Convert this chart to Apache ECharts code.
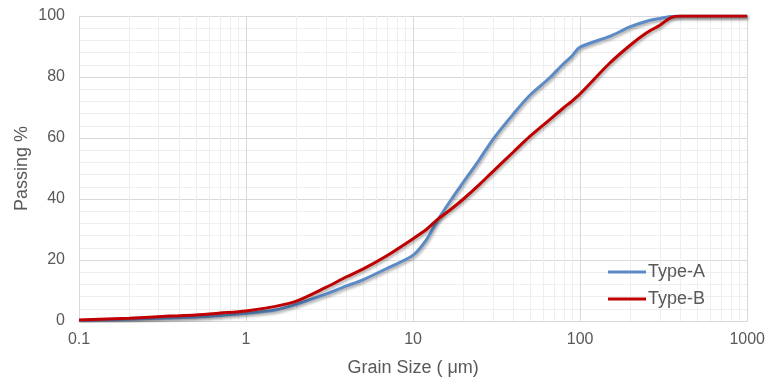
<!DOCTYPE html>
<html>
<head>
<meta charset="utf-8">
<script src="https://cdn.jsdelivr.net/npm/echarts@6/dist/echarts.min.js"></script>
<style>
  html, body { margin: 0; padding: 0; background: #fff; }
  #chart { width: 768px; height: 383px; }
</style>
</head>
<body>
<div id="chart"></div>
<script>
// Grain size (µm) at which each passing percentage is reported
const grainSize = [0.1, 0.2, 0.35, 0.5, 0.7, 1, 1.5, 2, 3, 4, 5, 7, 10, 12, 14, 17, 20, 25, 30, 40, 50, 65, 80, 88, 100, 150, 200, 250, 300, 350, 400, 500, 700, 1000];
const typeA = [0.2, 0.6, 1.0, 1.3, 1.8, 2.5, 3.6, 5.5, 8.8, 11.5, 13.5, 17.3, 21.6, 26.6, 33, 40, 45.5, 53, 59.5, 68, 74, 79.5, 84.5, 86.5, 89.8, 93.3, 96.5, 98.3, 99.2, 99.8, 100, 100, 100, 100];
const typeB = [0.3, 0.9, 1.6, 2.0, 2.6, 3.3, 4.8, 6.5, 11, 14.5, 17, 21.5, 27, 30, 33.3, 36.8, 40, 44.8, 49, 55.5, 60.5, 65.8, 70, 71.8, 74.5, 84.5, 90.5, 94.5, 97, 99.5, 100, 100, 100, 100];
const seriesNames = ['Type-A', 'Type-B'];
const seriesColors = ['#5b8ac6', '#c00000'];
const yTicks = [0, 20, 40, 60, 80, 100];

// Minor log grid: 2..9 within each decade
const minorGrid = [];
for (let d = 0.1; d < 999; d *= 10) {
  for (let k = 2; k <= 9; k++) minorGrid.push({ xAxis: +(k * d).toPrecision(3) });
}

const pairs = arr => grainSize.map((x, i) => [x, arr[i]]);
const font = 'Liberation Sans, Arial, sans-serif';
const textColor = '#595959';
const lineShadow = { shadowColor: 'rgba(0,0,0,0.35)', shadowBlur: 3, shadowOffsetX: 1, shadowOffsetY: 2 };

const chart = echarts.init(document.getElementById('chart'), null, { renderer: 'canvas' });
chart.setOption({
  animation: false,
  grid: { left: 79, right: 18, top: 16, bottom: 62 },
  legend: {
    data: seriesNames,
    orient: 'vertical',
    left: 603,
    top: 258,
    icon: 'rect',
    itemWidth: 38,
    itemHeight: 3,
    itemGap: 9,
    textStyle: { fontFamily: font, fontSize: 18, color: textColor, padding: [0, 0, 0, -3] }
  },
  xAxis: {
    type: 'log',
    logBase: 10,
    min: 0.1,
    max: 1000,
    name: 'Grain Size ( \u03bcm)',
    nameLocation: 'middle',
    nameGap: 38,
    nameMoveOverlap: false,
    nameTextStyle: { fontFamily: font, fontSize: 18, color: textColor },
    axisLine: { show: true, lineStyle: { color: '#d9d9d9' } },
    axisTick: { show: false },
    axisLabel: {
      fontFamily: font, fontSize: 16, color: textColor, margin: 11,
      formatter: v => String(+(+v).toPrecision(6))
    },
    splitLine: { show: true, lineStyle: { color: '#d9d9d9', width: 1 } }
  },
  yAxis: {
    type: 'value',
    min: yTicks[0],
    max: yTicks[yTicks.length - 1],
    interval: 20,
    name: 'Passing %',
    nameLocation: 'middle',
    nameGap: 48,
    nameMoveOverlap: false,
    nameTextStyle: { fontFamily: font, fontSize: 18, color: textColor },
    axisLine: { show: true, lineStyle: { color: '#d9d9d9' } },
    axisTick: { show: false },
    axisLabel: { fontFamily: font, fontSize: 16, color: textColor, margin: 14 },
    splitLine: { show: true, lineStyle: { color: '#d9d9d9', width: 1 } },
    minorTick: { show: false, splitNumber: 5 },
    minorSplitLine: { show: true, lineStyle: { color: '#eeeeee', width: 1 } }
  },
  series: [
    {
      name: 'grid',
      type: 'line',
      data: [],
      silent: true,
      z: 1,
      markLine: {
        z: 1,
        silent: true,
        symbol: 'none',
        label: { show: false },
        lineStyle: { color: '#eeeeee', width: 1, type: 'solid' },
        data: minorGrid
      }
    },
    {
      name: seriesNames[0],
      type: 'line',
      data: pairs(typeA),
      smooth: 0.3,
      showSymbol: false,
      z: 3,
      color: seriesColors[0],
      lineStyle: Object.assign({ color: seriesColors[0], width: 3 }, lineShadow)
    },
    {
      name: seriesNames[1],
      type: 'line',
      data: pairs(typeB),
      smooth: 0.3,
      showSymbol: false,
      z: 4,
      color: seriesColors[1],
      lineStyle: Object.assign({ color: seriesColors[1], width: 3 }, lineShadow)
    }
  ]
});
</script>
</body>
</html>
